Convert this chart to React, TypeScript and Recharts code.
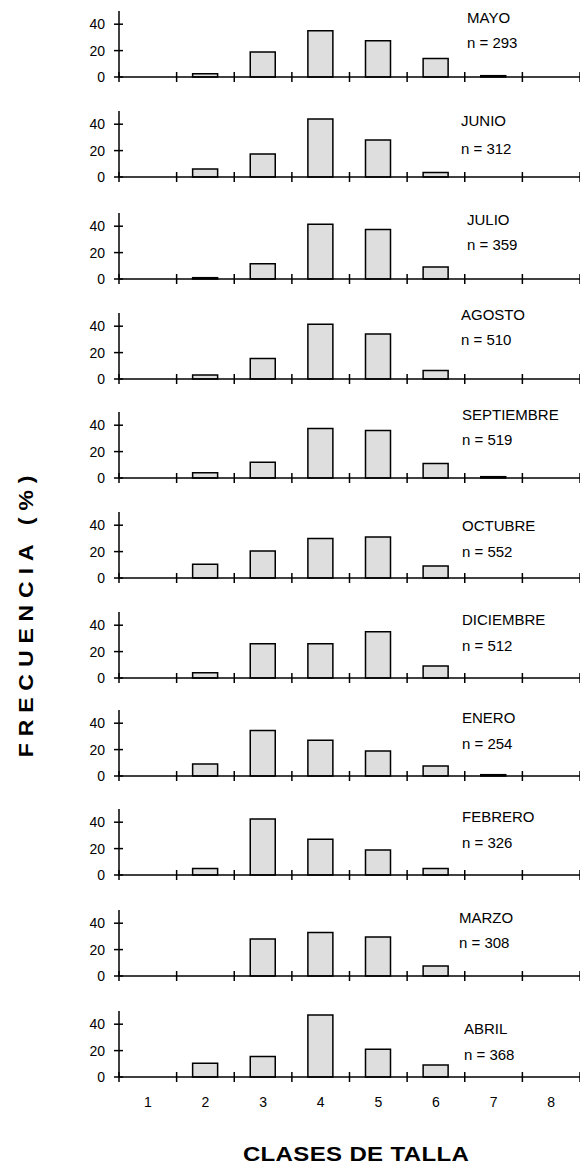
import { BarChart, Bar, XAxis, YAxis } from "recharts";

// size classes on the x axis
const CLASES = ["1", "2", "3", "4", "5", "6", "7", "8"];

// frequency (%) per size class, one array per month
const MAYO = [0, 2.5, 19, 35, 27.5, 14, 1, 0];
const JUNIO = [0, 6, 17.5, 44, 28, 3.5, 0, 0];
const JULIO = [0, 1, 11.5, 41.5, 37.5, 9, 0, 0];
const AGOSTO = [0, 3, 15.5, 41.5, 34, 6.5, 0, 0];
const SEPTIEMBRE = [0, 4, 12, 37.5, 36, 11, 1, 0];
const OCTUBRE = [0, 10.5, 20.5, 30, 31, 9, 0, 0];
const DICIEMBRE = [0, 4, 26, 26, 35, 9, 0, 0];
const ENERO = [0, 9, 34.5, 27, 19, 7.5, 1, 0];
const FEBRERO = [0, 5, 42.5, 27, 19, 5, 0, 0];
const MARZO = [0, 0, 28, 33, 29.5, 7.5, 0, 0];
const ABRIL = [0, 10.5, 15.5, 47, 21, 9, 0, 0];

const MESES = ["MAYO", "JUNIO", "JULIO", "AGOSTO", "SEPTIEMBRE", "OCTUBRE", "DICIEMBRE", "ENERO", "FEBRERO", "MARZO", "ABRIL"];
const N_VALUES = [293, 312, 359, 510, 519, 552, 512, 254, 326, 308, 368];
const SERIES = [MAYO, JUNIO, JULIO, AGOSTO, SEPTIEMBRE, OCTUBRE, DICIEMBRE, ENERO, FEBRERO, MARZO, ABRIL];
const Y_TICKS = [0, 20, 40];

// layout
const W = 580;
const H = 1167;
const PLOT_LEFT = 119;
const BAND = (W - PLOT_LEFT) / CLASES.length;
const PLOT_H = 66;
const TOP_M = 10;
const BASELINES = [77, 177, 279, 379, 478, 578, 678, 776, 875, 976, 1077];
// month label x, month label / n label offsets above the baseline
const LABEL_X = [467, 461, 467, 461, 462, 462, 462, 462, 462, 459, 464];
const LABEL_DY = [
  [59, 34], [56, 28], [59, 34], [64, 39], [63, 38], [52, 26],
  [58, 32], [58, 32], [58, 32], [58, 33], [48, 22],
];

const FONT = "'Liberation Sans', Arial, sans-serif";

function XTick(props: any) {
  const { x, y, index, showLabels } = props;
  const left = x - BAND / 2;
  return (
    <g>
      <line x1={left} x2={left} y1={y - 5} y2={y + 5} stroke="#000" strokeWidth={1.5} />
      {index === CLASES.length - 1 && (
        <line x1={x + BAND / 2} x2={x + BAND / 2} y1={y - 5} y2={y + 5} stroke="#000" strokeWidth={1.5} />
      )}
      {showLabels && (
        <text x={x} y={y + 25} dy="0.35em" textAnchor="middle" fontSize={14} fontFamily={FONT} fill="#000">
          {props.payload.value}
        </text>
      )}
    </g>
  );
}

function YTick(props: any) {
  const { x, y, payload } = props;
  return (
    <g>
      <line x1={x - 5} x2={x + 4} y1={y} y2={y} stroke="#000" strokeWidth={1.5} />
      <text x={x - 14} y={y} dy="0.35em" textAnchor="end" fontSize={14} fontFamily={FONT} fill="#000">
        {payload.value}
      </text>
    </g>
  );
}

function Panel({ values, index }: { values: number[]; index: number }) {
  const rows = CLASES.map((c, i) => ({ clase: c, v: values[i] }));
  const last = index === SERIES.length - 1;
  return (
    <div style={{ position: "absolute", left: 0, top: BASELINES[index] - TOP_M - PLOT_H }}>
      <BarChart
        width={W}
        height={TOP_M + PLOT_H + 40}
        data={rows}
        margin={{ top: TOP_M, right: 0, bottom: 0, left: 0 }}
        barSize={25}
      >
        <XAxis
          dataKey="clase"
          height={40}
          interval={0}
          axisLine={{ stroke: "#000", strokeWidth: 1.5 }}
          tickLine={false}
          tickSize={0}
          tickMargin={0}
          tick={(p: any) => <XTick {...p} showLabels={last} />}
        />
        <YAxis
          width={PLOT_LEFT}
          domain={[0, 50]}
          ticks={Y_TICKS}
          axisLine={{ stroke: "#000", strokeWidth: 1.5 }}
          tickLine={false}
          tickSize={0}
          tickMargin={0}
          tick={(p: any) => <YTick {...p} />}
        />
        <Bar dataKey="v" fill="#dedede" stroke="#000" strokeWidth={1.5} isAnimationActive={false} />
      </BarChart>
    </div>
  );
}

export default function App() {
  return (
    <div style={{ position: "absolute", left: 0, top: 0, width: W, height: H, background: "#fff", fontFamily: FONT }}>
      {SERIES.map((s, i) => (
        <Panel key={MESES[i]} values={s} index={i} />
      ))}
      <svg width={W} height={H} style={{ position: "absolute", left: 0, top: 0, pointerEvents: "none" }}>
        {MESES.map((m, i) => (
          <g key={m} fontFamily={FONT} fontSize={15} fill="#000">
            <text x={LABEL_X[i]} y={BASELINES[i] - LABEL_DY[i][0]} dy="0.35em">{m}</text>
            <text x={LABEL_X[i]} y={BASELINES[i] - LABEL_DY[i][1]} dy="0.35em">{`n = ${N_VALUES[i]}`}</text>
          </g>
        ))}
        <g transform="translate(26,613) rotate(-90) scale(1.15,1)">
          <text x={0} y={0} dy="0.35em" textAnchor="middle" fontFamily={FONT} fontWeight="bold" fontSize={20} letterSpacing={6} fill="#000">
            FRECUENCIA (%)
          </text>
        </g>
        <g transform="translate(356,1154) scale(1.2,1)">
          <text x={0} y={0} dy="0.35em" textAnchor="middle" fontFamily={FONT} fontWeight="bold" fontSize={20} letterSpacing={0.3} fill="#000">
            CLASES DE TALLA
          </text>
        </g>
      </svg>
    </div>
  );
}
